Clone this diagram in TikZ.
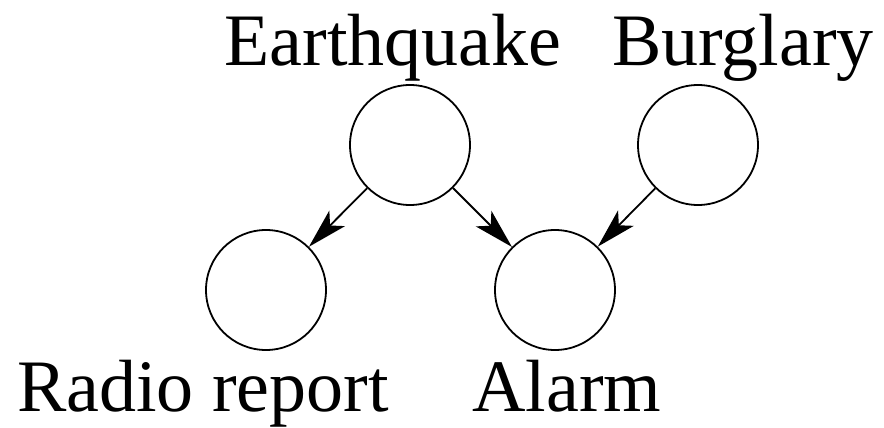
\documentclass[tikz,border=0pt]{standalone}
\usepackage{fontspec}
\setmainfont{Liberation Serif}
\usetikzlibrary{arrows.meta}
\begin{document}
\begin{tikzpicture}[x=1pt,y=-1pt,
  var/.style={circle,draw,line width=1.8pt,minimum size=120pt,inner sep=0pt},
  lbl/.style={anchor=base,inner sep=0pt,font=\fontsize{74}{80}\selectfont},
  edge/.style={line width=1.8pt,-{Stealth[length=40pt,width=22pt,inset=10pt]}}]
\useasboundingbox (0,0) rectangle (884,428);
\node[var] (e) at (410,145) {};
\node[var] (b) at (698,145) {};
\node[var] (r) at (266,290) {};
\node[var] (a) at (555,290) {};
\node[lbl] (le) at (393,66) {Earthquake};
\node[lbl] (lb) at (743,66) {Burglary};
\node[lbl] (lr) at (203,411) {Radio report};
\node[lbl] (la) at (567,411) {Alarm};
\draw[edge] (e) -- (r);
\draw[edge] (e) -- (a);
\draw[edge] (b) -- (a);
\end{tikzpicture}
\end{document}
